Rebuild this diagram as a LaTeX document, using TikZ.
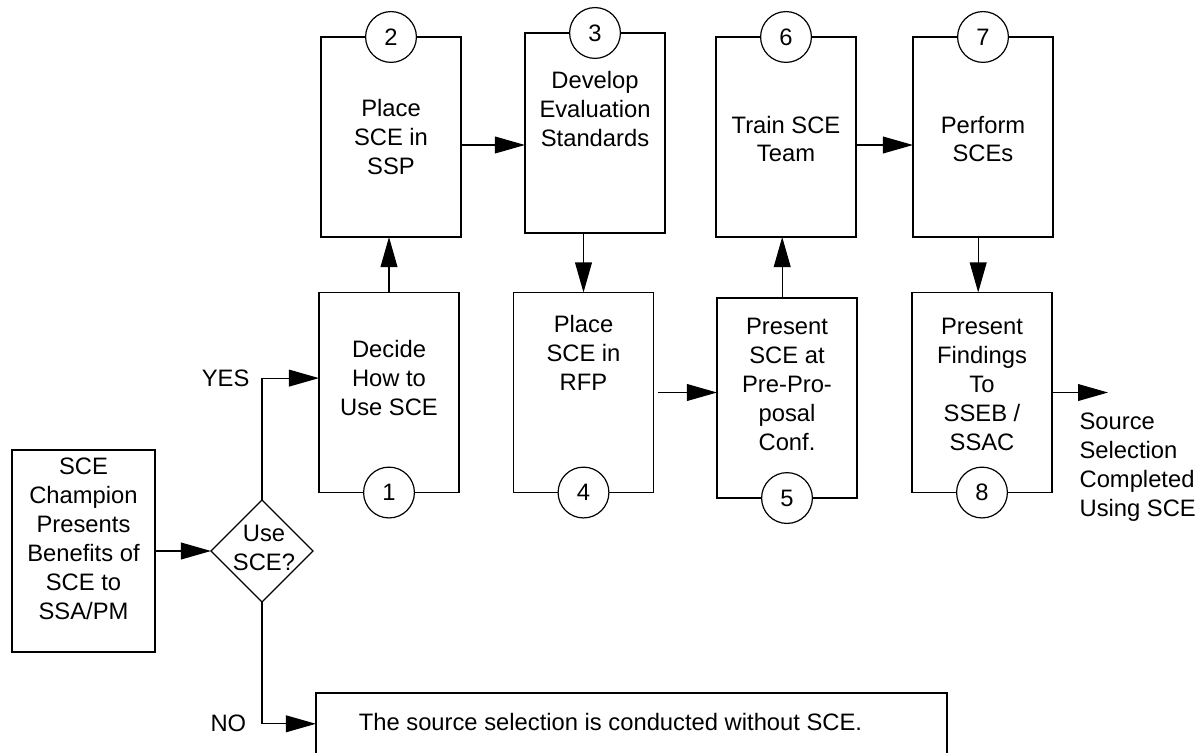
\documentclass[tikz,border=0pt]{standalone}
\usepackage{fontspec}
\setmainfont{Liberation Sans}
\usetikzlibrary{arrows.meta}
\usetikzlibrary{shapes.geometric}
\tikzstyle{procbox}=[draw, rectangle, inner sep=0, outer sep=0, minimum width=3.5cm, minimum height=5cm]
\tikzstyle{startbox}=[procbox, minimum width=3.575cm, minimum height=5.05cm]
\tikzstyle{widebox}=[procbox, minimum width=15.775cm, minimum height=1.6cm]
\tikzstyle{decision}=[draw, diamond, inner sep=0, outer sep=0, minimum width=2.55cm, minimum height=2.55cm]
\tikzstyle{stepnum}=[draw, circle, fill=white, inner sep=0, minimum size=1.27cm]
\tikzstyle{boxtext}=[align=center, inner sep=0]
\tikzstyle{flow}=[-{Triangle[length=0.75cm, width=0.42cm]}]
\tikzstyle{flowchart}=[x=0.025cm, y=-0.025cm, line width=0.85pt,
                       % Arial-like text, one size everywhere.
                       every node/.style={font=\fontsize{16.9}{20.6}\selectfont}]

\begin{document}
\begin{tikzpicture}[flowchart]
        \clip (0, 0) rectangle (1198, 752);
        % Start and decision.
        \node[startbox, label={[name=tstart, boxtext, yshift=0.3cm]center:SCE\\Champion\\Presents\\Benefits of\\SCE to\\SSA/PM}] (start) at (83.5, 551) {};
        \node[decision, label={[name=tdec, boxtext, xshift=0.05cm, yshift=0.08cm]center:Use\\SCE?}] (dec) at (262, 551) {};
        \node[widebox, label={[name=tno, boxtext, xshift=-0.525cm, yshift=0.07cm]center:The source selection is conducted without SCE.}] (nobox) at (631.5, 725) {};
        % Lower row.
        \node[procbox, label={[name=t1, boxtext, yshift=0.36cm]center:Decide\\How to\\Use SCE}]                (b1) at (389, 392.5) {};
        \node[procbox, label={[name=t4, boxtext, yshift=0.99cm]center:Place\\SCE in\\RFP}]                    (b4) at (583.5, 392.5) {};
        \node[procbox, label={[name=t5, boxtext, yshift=0.33cm]center:Present\\SCE at\\Pre-Pro-\\posal\\Conf.}] (b5) at (787, 398) {};
        \node[procbox, label={[name=t8, boxtext, yshift=0.21cm]center:Present\\Findings\\To\\SSEB /\\SSAC}]    (b8) at (982, 392.5) {};
        % Upper row.
        \node[procbox, label={[name=t2, boxtext]center:Place\\SCE in\\SSP}]                                    (b2) at (391, 137) {};
        \node[procbox, label={[name=t3, boxtext, yshift=0.6cm]center:Develop\\Evaluation\\Standards}]          (b3) at (595, 133) {};
        \node[procbox, label={[name=t6, boxtext, yshift=-0.05cm]center:Train SCE\\Team}]                       (b6) at (786, 137) {};
        \node[procbox, label={[name=t7, boxtext, yshift=-0.05cm]center:Perform\\SCEs}]                         (b7) at (983, 137) {};
        \node[boxtext, anchor=west, align=left] (donetext) at (1079, 467) {Source\\Selection\\Completed\\Using SCE};
        \coordinate (done) at (1108, 392.5);
        % Step numbers sit on the box edges.
        \node[stepnum] (n1) at (b1.south) {1};
        \node[stepnum] (n2) at (b2.north) {2};
        \node[stepnum] (n3) at (b3.north) {3};
        \node[stepnum] (n4) at (b4.south) {4};
        \node[stepnum] (n5) at (b5.south) {5};
        \node[stepnum] (n6) at (b6.north) {6};
        \node[stepnum] (n7) at (b7.north) {7};
        \node[stepnum] (n8) at (b8.south) {8};
        % Connectors.
        \draw[flow] (start.east) -- (dec.west);
        \draw[flow] (dec.north) |- node[boxtext, left=0.3cm, pos=0.5] (yes) {YES} ([yshift=0.36cm]b1.west);
        \draw[flow] (dec.south) |- node[boxtext, left=0.38cm, pos=0.5] (no) {NO} ([yshift=0.03cm]nobox.west);
        \draw[flow] (b1.north) -- (b1.north |- b2.south);
        \draw[flow] ([yshift=-0.2cm]b2.east) -- ([yshift=-0.2cm]b2.east -| b3.west);
        \draw[flow] (b3.south -| b4.north) -- (b4.north);
        \draw[flow] ([xshift=0.1cm]b4.east) -- (b4.east -| b5.west);
        \draw[flow] ([xshift=-0.12cm]b5.north) -- ([xshift=-0.12cm]b5.north |- b6.south);
        \draw[flow] ([yshift=-0.2cm]b6.east) -- ([yshift=-0.2cm]b6.east -| b7.west);
        \draw[flow] ([xshift=-0.12cm]b7.south) -- ([xshift=-0.12cm]b7.south |- b8.north);
        \draw[flow] (b8.east) -- (done);
    \end{tikzpicture}
\end{document}
